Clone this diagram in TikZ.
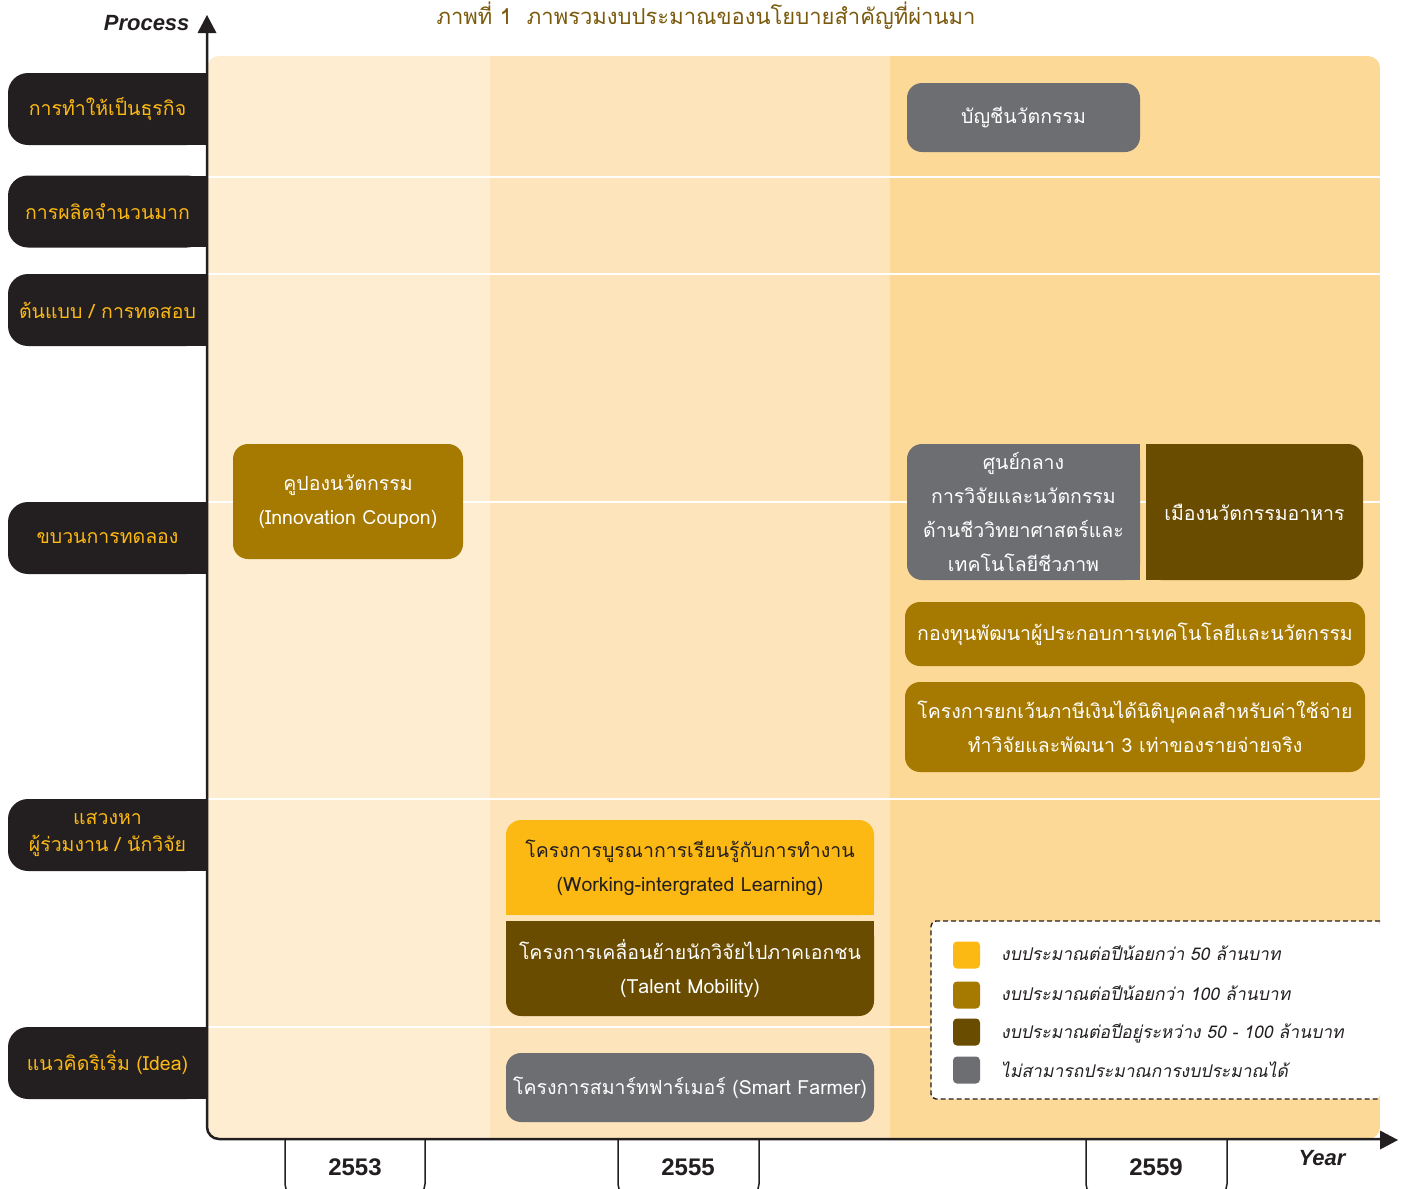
\documentclass[tikz,border=0pt]{standalone}
\usepackage{fontspec}
\newfontfamily\thai[Script=Thai]{Loma}
\newfontfamily\thaiit[Script=Thai,FakeSlant=0.2]{Loma}
\newfontfamily\latsans{Liberation Sans}
\definecolor{bgA}{HTML}{FEEDD0}
\definecolor{bgB}{HTML}{FDE4BA}
\definecolor{bgC}{HTML}{FDD998}
\definecolor{labc}{HTML}{231F20}
\definecolor{labtxt}{HTML}{FDB913}
\definecolor{grayc}{HTML}{6D6E71}
\definecolor{goldc}{HTML}{A67900}
\definecolor{darkc}{HTML}{6A4C00}
\definecolor{yelc}{HTML}{FDB913}
\definecolor{titc}{HTML}{7A5A0C}
\tikzset{
  lab/.style={fill=labc, text=labtxt, font=\thai\fontsize{19.5}{27}\selectfont, align=center,
    minimum width=199, minimum height=72, rounded corners=20, inner sep=0},
  pbox/.style={rounded corners=15, text=white, font=\thai\fontsize{19.5}{34}\selectfont,
    align=center, inner sep=0},
  rowline/.style={draw=white, line width=2.5},
  legsq/.style={rounded corners=4, minimum width=27, minimum height=27, inner sep=0},
  legtxt/.style={anchor=west, font=\thaiit\fontsize{17.5}{22}\selectfont, text=labc, inner sep=0},
  yearlbl/.style={font=\latsans\bfseries\fontsize{24}{26}\selectfont, text=labc},
}
\begin{document}
\begin{tikzpicture}[x=1pt,y=-1pt]
\useasboundingbox (0,0) rectangle (1406,1189);
% backgrounds
\begin{scope}
\clip[rounded corners=12] (207,56) -- (207,1139) -- (1380,1139) -- (1380,56) -- cycle;
\fill[bgA] (207,56) rectangle (490,1139);
\fill[bgB] (490,56) rectangle (890,1139);
\fill[bgC] (890,56) rectangle (1380,1139);
\end{scope}
% row lines
\foreach \yy in {177,274,502,799,1027}
  \draw[rowline] (207,\yy) -- (1380,\yy);
% title
\node[font=\thai\fontsize{22}{26}\selectfont, text=titc] (title) at (706,16) {ภาพที่ 1~~ภาพรวมงบประมาณของนโยบายสำคัญที่ผ่านมา};
% axes
\draw[labc, line width=2.5, rounded corners=12] (207,30) -- (207,1139) -- (1382,1139);
\fill[labc] (207,15) -- (216.5,33) -- (197.5,33) -- cycle;
\fill[labc] (1398,1140) -- (1380,1130.5) -- (1380,1149.5) -- cycle;
\node[font=\latsans\bfseries\itshape\fontsize{22}{24}\selectfont, text=labc, anchor=east] (proc) at (193,23) {Process};
\node[font=\latsans\bfseries\itshape\fontsize{22}{24}\selectfont, text=labc] (year) at (1322,1158) {Year};
% year ticks
\begin{scope}
\clip (200,1140) rectangle (1406,1189);
\foreach \xa/\xb in {285/425, 618/759, 1086/1227}
  \draw[labc, line width=1.5, rounded corners=12] (\xa,1140) -- (\xa,1196) -- (\xb,1196) -- (\xb,1140);
\end{scope}
\node[yearlbl] (y1) at (355,1167) {2553};
\node[yearlbl] (y2) at (688,1167) {2555};
\node[yearlbl] (y3) at (1156,1167) {2559};
% left labels: square patches for right corners
\foreach \ya/\yb in {73/145, 176/247, 274/346, 502/574, 799/871, 1027/1099}
  \fill[labc] (150,\ya) rectangle (207,\yb);
\node[lab] (l1) at (107.5,109) {การทำให้เป็นธุรกิจ};
\node[lab] (l2) at (107.5,211.5) {การผลิตจำนวนมาก};
\node[lab] (l3) at (107.5,310) {ต้นแบบ / การทดสอบ};
\node[lab] (l4) at (107.5,538) {ขบวนการทดลอง};
\node[lab] (l5) at (107.5,835) {แสวงหา\\ผู้ร่วมงาน / นักวิจัย};
\node[lab] (l6) at (107.5,1063) {แนวคิดริเริ่ม (Idea)};
% boxes
\node[pbox, fill=grayc, minimum width=233, minimum height=69] (acc) at (1023.5,117.5) {บัญชีนวัตกรรม};
\node[pbox, fill=goldc, minimum width=230, minimum height=115] (coupon) at (348,501.5) {คูปองนวัตกรรม\\(Innovation Coupon)};
\fill[grayc] (1080,444) rectangle (1140,580);
\fill[darkc] (1146,444) rectangle (1200,580);
\node[pbox, fill=grayc, minimum width=233, minimum height=136] (bio) at (1023.5,512) {ศูนย์กลาง\\การวิจัยและนวัตกรรม\\ด้านชีววิทยาศาสตร์และ\\เทคโนโลยีชีวภาพ};
\node[pbox, fill=darkc, minimum width=217, minimum height=136] (food) at (1254.5,512) {เมืองนวัตกรรมอาหาร};
\node[pbox, fill=goldc, minimum width=460, minimum height=64] (fund) at (1135,634) {กองทุนพัฒนาผู้ประกอบการเทคโนโลยีและนวัตกรรม};
\node[pbox, fill=goldc, minimum width=460, minimum height=90] (tax) at (1135,727) {โครงการยกเว้นภาษีเงินได้นิติบุคคลสำหรับค่าใช้จ่าย\\ทำวิจัยและพัฒนา 3 เท่าของรายจ่ายจริง};
\fill[yelc] (506,870) rectangle (874,915);
\fill[darkc] (506,921) rectangle (874,960);
\node[pbox, fill=yelc, text=labc, minimum width=368, minimum height=95] (wil) at (690,867.5) {โครงการบูรณาการเรียนรู้กับการทำงาน\\(Working-intergrated Learning)};
\node[pbox, fill=darkc, minimum width=368, minimum height=95] (talent) at (690,968.5) {โครงการเคลื่อนย้ายนักวิจัยไปภาคเอกชน\\(Talent Mobility)};
\node[pbox, fill=grayc, minimum width=368, minimum height=69] (farmer) at (690,1087.5) {โครงการสมาร์ทฟาร์เมอร์ (Smart Farmer)};
% legend
\fill[white, rounded corners=5] (1380,921) -- (931,921) -- (931,1099) -- (1380,1099) -- cycle;
\draw[labc, dash pattern=on 5pt off 3pt, line width=1.4, rounded corners=5] (1380,921) -- (931,921) -- (931,1099) -- (1380,1099);
\node[legsq, fill=yelc] (s1) at (966.5,955) {};
\node[legsq, fill=goldc] (s2) at (966.5,995) {};
\node[legsq, fill=darkc] (s3) at (966.5,1032) {};
\node[legsq, fill=grayc] (s4) at (966.5,1070) {};
\node[legtxt] (t1) at (1001,953) {งบประมาณต่อปีน้อยกว่า 50 ล้านบาท};
\node[legtxt] (t2) at (1001,993) {งบประมาณต่อปีน้อยกว่า 100 ล้านบาท};
\node[legtxt] (t3) at (1001,1033) {งบประมาณต่อปีอยู่ระหว่าง 50 - 100 ล้านบาท};
\node[legtxt] (t4) at (1001,1070) {ไม่สามารถประมาณการงบประมาณได้};
\end{tikzpicture}
\end{document}
